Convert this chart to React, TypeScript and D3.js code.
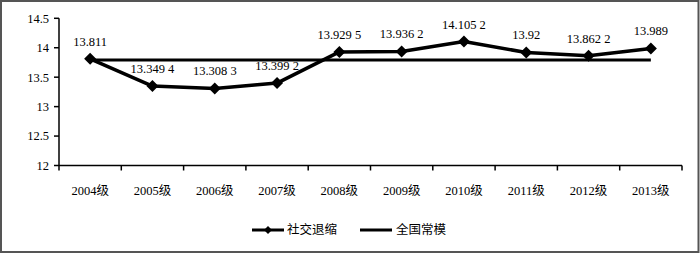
import * as d3 from "d3";

const grades = ["2004级", "2005级", "2006级", "2007级", "2008级", "2009级", "2010级", "2011级", "2012级", "2013级"];
const socialWithdrawal = [13.811, 13.3494, 13.3083, 13.3992, 13.9295, 13.9362, 14.1052, 13.92, 13.8622, 13.989];
const labels = ["13.811", "13.349 4", "13.308 3", "13.399 2", "13.929 5", "13.936 2", "14.105 2", "13.92", "13.862 2", "13.989"];
const nationalNorm = 13.79;
const yTicks = [12, 12.5, 13, 13.5, 14, 14.5];
const seriesNames = ["社交退缩", "全国常模"];

const W = 700;
const H = 253;
const font = '"Liberation Serif", "Times New Roman", "Noto Sans CJK SC", serif';

function diamond(cx: number, cy: number, r: number) {
  return `M${cx},${cy - r}L${cx + r},${cy}L${cx},${cy + r}L${cx - r},${cy}Z`;
}

export default function App() {
  const x = d3.scaleBand<string>().domain(grades).range([59, 682]);
  const y = d3.scaleLinear().domain([12, 14.5]).range([165.5, 18.3]);
  const cx = (g: string) => (x(g) ?? 0) + x.bandwidth() / 2;

  const line = d3
    .line<number>()
    .x((_, i) => cx(grades[i]))
    .y((d) => y(d));

  const normY = y(nationalNorm);
  const x0 = cx(grades[0]);
  const x1 = cx(grades[grades.length - 1]);
  const ts = { fontFamily: font, fontSize: "12.5px" };

  return (
    <svg
      width={W}
      height={H}
      style={{ position: "absolute", left: 0, top: 0, background: "#fff" }}
    >
      <rect x={1} y={1} width={W - 2.5} height={H - 2} fill="#fff" stroke="#555" strokeWidth={2} />

      {/* y axis */}
      <line x1={59} x2={59} y1={y(14.5)} y2={y(12)} stroke="#000" strokeWidth={1.5} />
      {yTicks.map((t) => (
        <g key={t}>
          <line x1={54} x2={59} y1={y(t)} y2={y(t)} stroke="#000" strokeWidth={1.5} />
          <text x={49} y={y(t)} dy="0.35em" textAnchor="end" style={ts}>
            {t}
          </text>
        </g>
      ))}

      {/* x axis */}
      <line x1={59} x2={682} y1={y(12)} y2={y(12)} stroke="#000" strokeWidth={1.5} />
      {[...grades.map((g) => x(g) ?? 0), 682].map((p, i) => (
        <line key={i} x1={p} x2={p} y1={y(12)} y2={y(12) + 5} stroke="#000" strokeWidth={1.5} />
      ))}
      {grades.map((g) => (
        <text key={g} x={cx(g)} y={195} textAnchor="middle" style={ts}>
          {g}
        </text>
      ))}

      {/* national norm */}
      <line x1={x0} x2={x1} y1={normY} y2={normY} stroke="#000" strokeWidth={3} />

      {/* series */}
      <path d={line(socialWithdrawal) ?? ""} fill="none" stroke="#000" strokeWidth={3.5} strokeLinejoin="round" />
      {socialWithdrawal.map((v, i) => (
        <path key={i} d={diamond(cx(grades[i]), y(v), 6)} fill="#000" />
      ))}
      {socialWithdrawal.map((v, i) => (
        <text key={i} x={cx(grades[i])} y={y(v) - 13} textAnchor="middle" style={ts}>
          {labels[i]}
        </text>
      ))}

      {/* legend */}
      <g transform="translate(252,230)">
        <line x1={0} x2={32} y1={0} y2={0} stroke="#000" strokeWidth={3} />
        <path d={diamond(16, 0, 4)} fill="#000" />
        <text x={35} y={0} dy="0.35em" style={ts}>
          {seriesNames[0]}
        </text>
        <line x1={108} x2={140} y1={0} y2={0} stroke="#000" strokeWidth={3} />
        <text x={144} y={0} dy="0.35em" style={ts}>
          {seriesNames[1]}
        </text>
      </g>
    </svg>
  );
}
